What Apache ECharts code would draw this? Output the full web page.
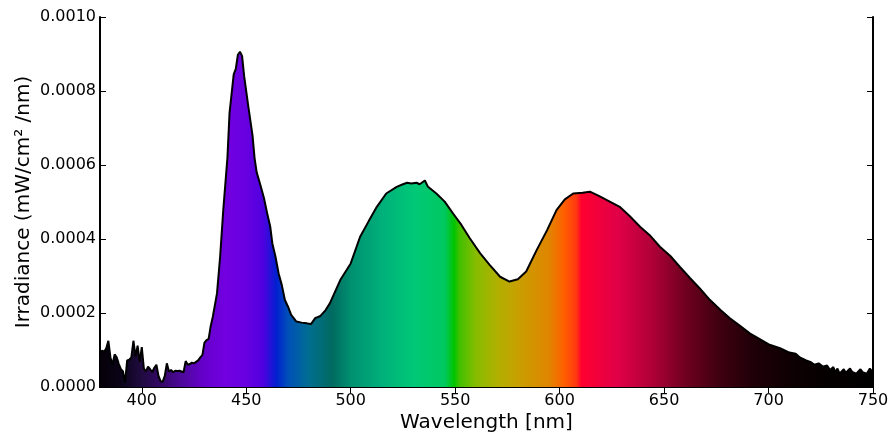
<!DOCTYPE html>
<html>
<head>
<meta charset="utf-8">
<script src="https://cdn.jsdelivr.net/npm/echarts@6/dist/echarts.min.js"></script>
<style>html,body{margin:0;padding:0;background:#fff;}#c{width:892px;height:434px;}</style>
</head>
<body>
<div id="c"></div>
<script>
// Wavelength (nm)
const wavelengths = [380,381,382,383,384,385,386,387,388,389,390,391,392,393,394,395,396,397,398,399,400,401,402,403,404,405,406,407,408,409,410,411,412,413,414,415,416,417,418,419,420,421,422,423,424,425,426,427,428,429,430,431,432,433,434,436,437.5,439,441,442,444,445,446,447,448,449,451,453,454,455,457,458.5,460,461.5,462.5,464,465.5,467,468.5,470,471.5,474,476.5,479,481,483,485.5,488,490,495,500,504.5,508.5,512.5,517,522,525,527,529,531.5,533,535.5,537,541,545,549,553,557,562,566.5,571.5,576,580,584,589,594,598.5,602.5,606.5,611,614.5,619,624,629,633.5,638.5,643,648,653,657.5,662.5,667,672,677,681.5,686.5,691,696,700.5,705.5,710,713,715,718,720,722,724,726,728,729.5,731,732,733,734,736,737,739,740,742,744,745,747,748.5,750];
// Irradiance (mW/cm^2/nm)
const irradiance = [0.000092,0.000098,0.000095,0.000105,0.000125,0.000080,0.000060,0.000088,0.000080,0.000062,0.000048,0.000042,0.000012,0.000072,0.000074,0.000080,0.000125,0.000082,0.000112,0.000068,0.000108,0.000050,0.000042,0.000055,0.000048,0.000040,0.000052,0.000060,0.000030,0.000016,0.000014,0.000030,0.000064,0.000042,0.000046,0.000040,0.000044,0.000043,0.000044,0.000042,0.000040,0.000070,0.000060,0.000062,0.000066,0.000064,0.000068,0.000072,0.000080,0.000086,0.000120,0.000127,0.000130,0.000165,0.000190,0.000253,0.000352,0.000478,0.000620,0.000740,0.000845,0.000860,0.000898,0.000906,0.000895,0.000840,0.000758,0.000680,0.000618,0.000580,0.000541,0.000510,0.000470,0.000433,0.000388,0.000352,0.000307,0.000276,0.000235,0.000217,0.000195,0.000177,0.000174,0.000172,0.000170,0.000186,0.000192,0.000208,0.000226,0.000289,0.000334,0.000406,0.000447,0.000487,0.000523,0.000541,0.000548,0.000552,0.000550,0.000552,0.000548,0.000558,0.000541,0.000523,0.000501,0.000469,0.000438,0.000402,0.000361,0.000330,0.000298,0.000285,0.000291,0.000312,0.000370,0.000424,0.000478,0.000507,0.000523,0.000525,0.000528,0.000516,0.000501,0.000486,0.000462,0.000433,0.000411,0.000379,0.000354,0.000325,0.000294,0.000267,0.000235,0.000208,0.000186,0.000165,0.000145,0.000129,0.000114,0.000105,0.000093,0.000090,0.000080,0.000072,0.000068,0.000060,0.000064,0.000055,0.000058,0.000046,0.000054,0.000040,0.000050,0.000036,0.000048,0.000038,0.000050,0.000041,0.000036,0.000048,0.000040,0.000036,0.000050,0.000039,0.000042];
// Tick labels
const xTicks = [400,450,500,550,600,650,700,750];
const yTicks = [0,0.0002,0.0004,0.0006,0.0008,0.0010];

// spectral fill colours (wavelength -> colour)
const colorNm = [380,390,400,410,420,430,440,450,458,464.5,470,480,491,500,515,530,545,549.5,552,560,570,580,595,602,608,610.5,628,644,660,676,692,708,725,750];
const colorHex = ['#050008','#0a0418','#200a40','#36086a','#5008a0','#6600cc','#7200e0','#6800e0','#5000e0','#0020d0','#0050b8','#006e90','#006a60','#009070','#00b07a','#00c878','#00c860','#00c400','#40c000','#88bc00','#b0b000','#c8a000','#e08400','#ff6000','#ff3810','#ff0030','#e00048','#b00038','#700020','#400010','#200008','#100004','#060000','#000000'];

const xMin = 380, xMax = 750;
const stops = colorNm.map((w,i)=>({offset:(w-xMin)/(xMax-xMin), color:colorHex[i]}));
const data = wavelengths.map((w,i)=>[w, irradiance[i]]);

const font = 'DejaVu Sans';
const chart = echarts.init(document.getElementById('c'), null, {renderer:'canvas'});
const lineStyleAxis = {show:true, lineStyle:{color:'#000', width:2}};
const tickIn = {show:true, inside:true, length:6, lineStyle:{color:'#000', width:1}};
chart.setOption({
  animation:false,
  grid:{left:100, right:19, top:17, bottom:47, containLabel:false, outerBoundsMode:'none'},
  xAxis:[{
    type:'value', min:xMin, max:xMax, position:'bottom',
    axisLine:lineStyleAxis,
    axisTick:Object.assign({customValues:xTicks}, tickIn),
    axisLabel:{customValues:xTicks, color:'#000', fontFamily:font, fontSize:16, margin:6, formatter:v=>String(v)},
    splitLine:{show:false},
    name:'Wavelength [nm]', nameLocation:'middle', nameGap:26, nameMoveOverlap:false,
    nameTextStyle:{color:'#000', fontFamily:font, fontSize:20}
  },{
    type:'value', min:xMin, max:xMax, position:'top',
    axisLine:lineStyleAxis,
    axisTick:Object.assign({customValues:xTicks}, tickIn),
    axisLabel:{show:false}, splitLine:{show:false}
  }],
  yAxis:[{
    type:'value', min:0, max:0.001, interval:0.0002, position:'left',
    axisLine:lineStyleAxis, axisTick:tickIn,
    axisLabel:{color:'#000', fontFamily:font, fontSize:16, margin:4, formatter:v=>v.toFixed(4)},
    splitLine:{show:false},
    name:'Irradiance (mW/cm² /nm)', nameLocation:'middle', nameGap:66, nameRotate:90, nameMoveOverlap:false,
    nameTextStyle:{color:'#000', fontFamily:font, fontSize:20}
  },{
    type:'value', min:0, max:0.001, interval:0.0002, position:'right',
    axisLine:lineStyleAxis, axisTick:tickIn,
    axisLabel:{show:false}, splitLine:{show:false}
  }],
  series:[{
    type:'line', data:data, showSymbol:false, symbol:'none',
    lineStyle:{color:'#000', width:2},
    areaStyle:{opacity:1, origin:'start', color:new echarts.graphic.LinearGradient(0,0,1,0,stops)},
    z:1
  }]
});
</script>
</body>
</html>
